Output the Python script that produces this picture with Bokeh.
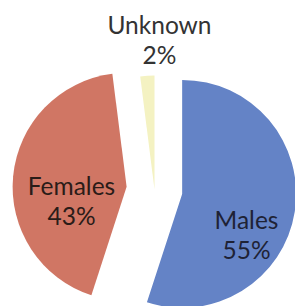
import math
from bokeh.plotting import figure
from bokeh.models import Range1d, ColumnDataSource
from bokeh.core.properties import value
from bokeh.embed import file_html
from bokeh.resources import INLINE

# ---- data ----
categories = ["Males", "Females", "Unknown"]
percents = [55, 43, 2]

# ---- style / layout ----
colors = ["#6483c6", "#d07664", "#f4f2c2"]
explode = [28, 28, 0]
CX, CY, R = 154, 117, 114
lbl_dx = [92, -83, 5]
lbl_dy = [-30, 4, 165]
LINE_GAP = 30
FONT = "Lato"

W, H = 295, 306
p = figure(width=W, height=H, output_backend="svg", toolbar_location=None,
           x_range=Range1d(0, W), y_range=Range1d(0, H),
           min_border=0)
p.axis.visible = False
p.grid.visible = False
p.outline_line_color = None
p.background_fill_color = "white"
p.border_fill_color = "white"

total = sum(percents)
xs, ys, starts, ends = [], [], [], []
acc = 0.0
for v, d in zip(percents, explode):
    a0 = acc / total * 2 * math.pi          # clockwise from top
    a1 = (acc + v) / total * 2 * math.pi
    mid = (a0 + a1) / 2
    xs.append(CX + d * math.sin(mid))
    ys.append(CY + d * math.cos(mid))
    # convert to standard (anticlockwise from +x) angles
    starts.append(math.pi / 2 - a1)
    ends.append(math.pi / 2 - a0)
    acc += v

src = ColumnDataSource(dict(x=xs, y=ys, start=starts, end=ends, color=colors))
p.wedge(x="x", y="y", radius=R, start_angle="start", end_angle="end",
        direction="anticlock", fill_color="color", line_color=None, source=src)

names = categories
pcts = [f"{v}%" for v in percents]
lx = [CX + dx for dx in lbl_dx]
ny = [CY + dy for dy in lbl_dy]
py = [y - LINE_GAP for y in ny]
text_colors = ["#1e2235", "#2a1c18", "#333333"]
p.text(x=lx, y=ny, text=names, text_align="center", text_baseline="alphabetic",
       text_font=value(FONT), text_font_size="24.5px", text_color=text_colors)
p.text(x=lx, y=py, text=pcts, text_align="center", text_baseline="alphabetic",
       text_font=value(FONT), text_font_size="24.5px", text_color=text_colors)

open("out.html", "w").write(file_html(p, INLINE))
